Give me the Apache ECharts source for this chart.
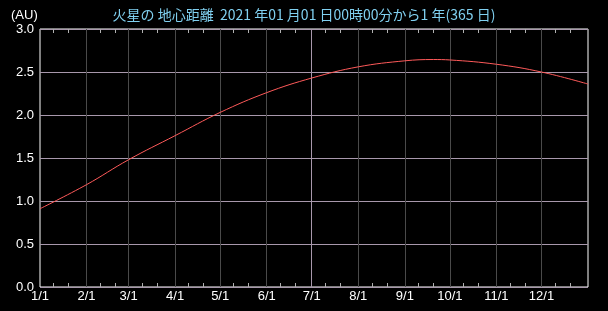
<!DOCTYPE html>
<html>
<head>
<meta charset="utf-8">
<script src="https://cdn.jsdelivr.net/npm/echarts@6/dist/echarts.min.js"></script>
<style>
  html, body { margin: 0; padding: 0; background: #000; }
  #chart { width: 608px; height: 311px; }
</style>
</head>
<body>
<div id="chart"></div>
<script>
// day offsets (from 1 Jan 2021) of each month start, plus 1 Jan 2022
const monthStarts = [0, 31, 59, 90, 120, 151, 181, 212, 243, 273, 304, 334, 365];
const monthNames = [1, 2, 3, 4, 5, 6, 7, 8, 9, 10, 11, 12, 1];

// geocentric distance of Mars (AU)
const sampleDays = [0, 31, 59, 90, 120, 151, 181, 212, 243, 262, 273, 304, 334, 365];
const distanceAU = [0.91, 1.19, 1.48, 1.76, 2.03, 2.26, 2.43, 2.56, 2.63, 2.645, 2.64, 2.59, 2.5, 2.36];

const yTicks = { min: 0, max: 3, interval: 0.5 };
const titleText = "火星の 地心距離  2021 年01 月01 日00時00分から1 年(365 日)";
const unitText = "(AU)";

// one category per day, labelled month/day
const dayLabels = [];
const dayOfMonth = [];
for (let d = 0; d <= 365; d++) {
  let m = 0;
  while (m < monthStarts.length - 1 && monthStarts[m + 1] <= d) m++;
  dayOfMonth.push(d - monthStarts[m] + 1);
  dayLabels.push(monthNames[m] + "/" + (d - monthStarts[m] + 1));
}

const isMonthStart = (i) => monthStarts.indexOf(i) >= 0;
const isMinorTick = (i) => dayOfMonth[i] === 10 || dayOfMonth[i] === 20;

const font = "'Liberation Sans', Arial, sans-serif";

const chart = echarts.init(document.getElementById("chart"));
chart.setOption({
  backgroundColor: "#000",
  animation: false,
  title: [
    {
      text: titleText,
      left: "center",
      top: 3,
      textStyle: {
        color: "#80d0f0",
        fontSize: 14,
        fontWeight: "normal",
        fontFamily: "'Noto Sans CJK JP', sans-serif",
      },
    },
    {
      text: unitText,
      left: 6,
      top: 4,
      textStyle: { color: "#fff", fontSize: 13, fontWeight: "normal", fontFamily: font },
    },
  ],
  grid: {
    left: 40,
    right: 20,
    top: 29,
    bottom: 24,
    show: true,
    borderColor: "#fff",
    borderWidth: 1,
  },
  xAxis: [
    {
      type: "category",
      data: dayLabels,
      boundaryGap: false,
      axisLine: { show: false },
      axisTick: {
        inside: true,
        length: 4,
        interval: (i) => isMinorTick(i),
        lineStyle: { color: "#b0b0b0" },
      },
      axisLabel: {
        color: "#fff",
        fontSize: 13,
        fontFamily: font,
        margin: 3,
        interval: (i) => isMonthStart(i) && i < 365,
      },
      splitLine: {
        show: true,
        interval: (i) => isMonthStart(i) && i > 0 && i < 365,
        lineStyle: { color: "#4a4a4a", width: 1 },
      },
    },
    {
      type: "category",
      data: dayLabels,
      position: "top",
      boundaryGap: false,
      axisLine: { show: false },
      axisTick: {
        inside: true,
        length: 4,
        interval: (i) => isMinorTick(i),
        lineStyle: { color: "#b0b0b0" },
      },
      axisLabel: { show: false },
      splitLine: { show: false },
    },
  ],
  yAxis: {
    type: "value",
    min: yTicks.min,
    max: yTicks.max,
    interval: yTicks.interval,
    axisLine: { show: false },
    axisTick: { show: false },
    axisLabel: {
      color: "#fff",
      fontSize: 13,
      fontFamily: font,
      margin: 6,
      formatter: (v) => v.toFixed(1),
    },
    splitLine: { lineStyle: { color: "#a898ac", width: 1 } },
  },
  series: [
    {
      type: "line",
      xAxisIndex: 0,
      data: sampleDays.map((d, i) => [d, distanceAU[i]]),
      smooth: 0.4,
      symbol: "none",
      lineStyle: { color: "#ff5a5a", width: 1 },
      z: 5,
      markLine: {
        silent: true,
        symbol: "none",
        label: { show: false },
        lineStyle: { color: "#a898ac", type: "solid", width: 1 },
        data: [{ xAxis: 181 }],
        z: 1,
      },
    },
  ],
});
</script>
</body>
</html>
